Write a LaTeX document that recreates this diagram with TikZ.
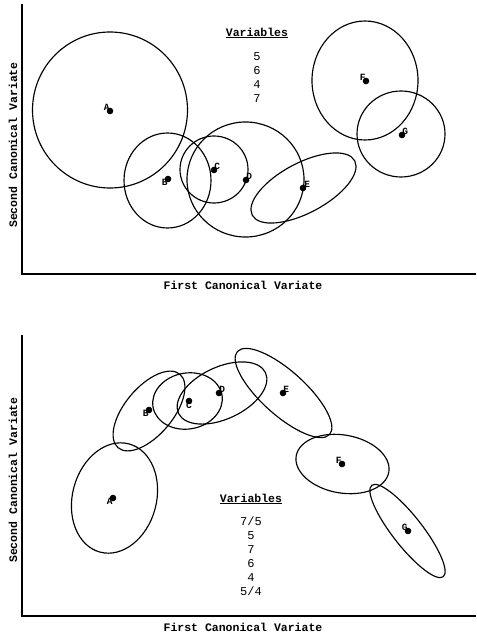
\documentclass[tikz,border=0pt]{standalone}
\usepackage{fontspec}
\usepackage{tikz}
\usetikzlibrary{positioning}
\newfontfamily\typew{Liberation Mono}

\tikzset{
  axis/.style={line width=1.2pt},
  grp/.style={line width=1.15pt},
  axlab/.style={font=\typew\bfseries\fontsize{11.5}{13}\selectfont, inner sep=0pt},
  ptlab/.style={font=\typew\bfseries\fontsize{9.5}{10}\selectfont, inner sep=0.2pt},
  varhead/.style={font=\typew\bfseries\fontsize{11.5}{13}\selectfont, inner sep=0pt},
  varlist/.style={font=\typew\fontsize{12}{14}\selectfont, align=center, inner sep=0pt}
}

\begin{document}
\begin{tikzpicture}[x=1pt, y=-1pt]
	\useasboundingbox (0,0) rectangle (476,636);
	
	% ===== TOP PANEL: four variables =====
	% Axes
	\draw[axis] (22,4) -- (22,274) -- (476,274);
	\node[axlab] (xlabT) at (243,285) {First Canonical Variate};
	\node[axlab, rotate=90] (ylabT) at (13,145) {Second Canonical Variate};
	
	% Group centroids
	\coordinate (tA) at (110,111);
	\coordinate (tB) at (168,179);
	\coordinate (tC) at (214,170);
	\coordinate (tD) at (246,180);
	\coordinate (tE) at (303,188);
	\coordinate (tF) at (366,81);
	\coordinate (tG) at (402,135);
	
	% Confidence regions
	\draw[grp] (110,110) circle [x radius=77.5, y radius=78];
	\draw[grp] (167.5,180.5) circle [x radius=43.5, y radius=47.5];
	\draw[grp] (214,169.5) circle [x radius=34, y radius=33.5];
	\draw[grp] (245.5,179.5) circle [x radius=58.5, y radius=57.5];
	\draw[grp] (303.5,188) circle [x radius=58, y radius=25, rotate=28];
	\draw[grp] (365,80.5) circle [x radius=53, y radius=59.5];
	\draw[grp] (401,134) circle [x radius=44, y radius=43];
	
	% Dots and letters
	\foreach \p in {tA,tB,tC,tD,tE,tF,tG} \fill (\p) circle (3.3);
	\node[ptlab, above left=0pt of tA] {A};
	\node[ptlab, below left=0pt of tB] {B};
	\node[ptlab, above right=0pt of tC] {C};
	\node[ptlab, above right=0pt of tD] {D};
	\node[ptlab, above right=0pt and 1pt of tE] {E};
	\node[ptlab, above left=0pt of tF] {F};
	\node[ptlab, above right=0pt of tG] {G};
	
	% Variables used
	\node[varhead] (headT) at (257,33) {\underline{Variables}};
	\node[varlist] (listT) at (257,78) {5\\6\\4\\7};
	
	% ===== BOTTOM PANEL: six variable sets =====
	% Axes
	\draw[axis] (22,335) -- (22,616) -- (476,616);
	\node[axlab] (xlabB) at (243,627) {First Canonical Variate};
	\node[axlab, rotate=90] (ylabB) at (13,480) {Second Canonical Variate};
	
	% Group centroids
	\coordinate (bA) at (113,498);
	\coordinate (bB) at (149,410);
	\coordinate (bC) at (189,401);
	\coordinate (bD) at (219,393);
	\coordinate (bE) at (283,393);
	\coordinate (bF) at (342,464);
	\coordinate (bG) at (408,531);
	
	% Confidence regions
	\draw[grp] (114.5,498) circle [x radius=42, y radius=56, rotate=-15];
	\draw[grp] (149,411) circle [x radius=48, y radius=24, rotate=50];
	\draw[grp] (187.5,401) circle [x radius=35, y radius=28, rotate=10];
	\draw[grp] (222,393) circle [x radius=48, y radius=26, rotate=25];
	\draw[grp] (283.5,393) circle [x radius=62, y radius=22, rotate=-42];
	\draw[grp] (342.5,464) circle [x radius=47, y radius=29, rotate=-10];
	\draw[grp] (407.5,531) circle [x radius=58, y radius=15, rotate=-52];
	
	% Dots and letters
	\foreach \p in {bA,bB,bC,bD,bE,bF,bG} \fill (\p) circle (3.3);
	\node[ptlab, below left=0pt of bA] {A};
	\node[ptlab, below left=0pt of bB] {B};
	\node[ptlab, below=1pt of bC] {C};
	\node[ptlab, above right=0pt of bD] {D};
	\node[ptlab, above right=0pt of bE] {E};
	\node[ptlab, above left=0pt of bF] {F};
	\node[ptlab, above left=0pt of bG] {G};
	
	% Variables used
	\node[varhead] (headB) at (251,499) {\underline{Variables}};
	\node[varlist] (listB) at (251,556.5) {7/5\\5\\7\\6\\4\\5/4};
\end{tikzpicture}
\end{document}
